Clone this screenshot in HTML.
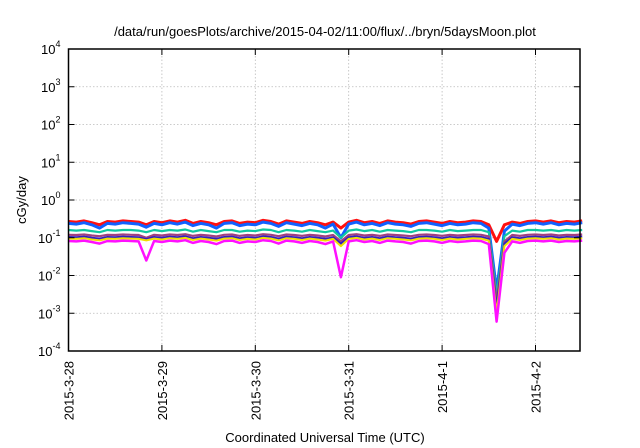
<!DOCTYPE html>
<html><head><meta charset="utf-8"><style>
body{margin:0;background:#fff;}
svg{display:block;font-family:"Liberation Sans",sans-serif;}
</style></head><body>
<svg id="chart" width="640" height="448" viewBox="0 0 640 448">
<rect width="640" height="448" fill="#fff"/>
<text x="325" y="36" font-size="13" text-anchor="middle" fill="#000">/data/run/goesPlots/archive/2015-04-02/11:00/flux/../bryn/5daysMoon.plot</text>
<text transform="translate(26,200) rotate(-90)" font-size="13" text-anchor="middle">cGy/day</text>
<text x="325" y="442" font-size="13" text-anchor="middle">Coordinated Universal Time (UTC)</text>
<g id="grid"></g><g id="series"></g><g id="axes"></g>
</svg>
<script>
const xTickLabels=["2015-3-28","2015-3-29","2015-3-30","2015-3-31","2015-4-1","2015-4-2"];
const yTickExp=[-4,-3,-2,-1,0,1,2,3,4];
const stepHours=2;
const red=[0.27,0.26,0.28,0.25,0.22,0.27,0.26,0.28,0.27,0.26,0.22,0.27,0.25,0.28,0.26,0.29,0.24,0.27,0.25,0.22,0.27,0.28,0.24,0.26,0.25,0.29,0.27,0.23,0.28,0.26,0.24,0.27,0.25,0.22,0.26,0.18,0.26,0.29,0.25,0.27,0.24,0.28,0.26,0.25,0.23,0.27,0.28,0.26,0.24,0.27,0.25,0.26,0.28,0.27,0.22,0.08,0.22,0.26,0.24,0.27,0.28,0.26,0.28,0.25,0.27,0.26,0.28];
const blue=[0.24,0.23,0.25,0.22,0.18,0.24,0.23,0.25,0.24,0.23,0.19,0.24,0.22,0.25,0.23,0.26,0.21,0.24,0.22,0.18,0.24,0.25,0.21,0.23,0.22,0.26,0.24,0.2,0.25,0.23,0.21,0.24,0.22,0.18,0.23,0.1,0.23,0.26,0.22,0.24,0.21,0.25,0.23,0.22,0.2,0.24,0.25,0.23,0.21,0.24,0.22,0.23,0.25,0.24,0.18,0.004,0.15,0.23,0.21,0.24,0.25,0.23,0.25,0.22,0.24,0.23,0.25];
const teal=[0.16,0.155,0.16,0.15,0.14,0.16,0.155,0.16,0.16,0.155,0.14,0.16,0.15,0.16,0.155,0.165,0.145,0.16,0.15,0.14,0.16,0.16,0.145,0.155,0.15,0.165,0.16,0.14,0.16,0.155,0.145,0.16,0.15,0.14,0.155,0.1,0.155,0.165,0.15,0.16,0.145,0.16,0.155,0.15,0.14,0.16,0.16,0.155,0.145,0.16,0.15,0.155,0.16,0.16,0.14,0.003,0.11,0.155,0.145,0.16,0.16,0.155,0.16,0.15,0.16,0.155,0.16];
const purple=[0.12,0.118,0.122,0.115,0.11,0.12,0.118,0.122,0.12,0.118,0.1,0.12,0.115,0.122,0.118,0.124,0.112,0.12,0.115,0.108,0.12,0.122,0.112,0.118,0.115,0.124,0.12,0.11,0.122,0.118,0.112,0.12,0.115,0.108,0.118,0.08,0.118,0.124,0.115,0.12,0.112,0.122,0.118,0.115,0.11,0.12,0.122,0.118,0.112,0.12,0.115,0.118,0.122,0.12,0.108,0.002,0.08,0.118,0.112,0.12,0.122,0.118,0.122,0.115,0.12,0.118,0.122];
const darkblue=[0.105,0.103,0.107,0.1,0.095,0.105,0.103,0.107,0.105,0.103,0.092,0.105,0.1,0.107,0.103,0.109,0.097,0.105,0.1,0.094,0.105,0.107,0.097,0.103,0.1,0.109,0.105,0.095,0.107,0.103,0.097,0.105,0.1,0.094,0.103,0.07,0.103,0.109,0.1,0.105,0.097,0.107,0.103,0.1,0.095,0.105,0.107,0.103,0.097,0.105,0.1,0.103,0.107,0.105,0.094,0.0015,0.07,0.103,0.097,0.105,0.107,0.103,0.107,0.1,0.105,0.103,0.107];
const yellow=[0.095,0.093,0.097,0.09,0.085,0.095,0.093,0.097,0.095,0.093,0.085,0.095,0.09,0.097,0.093,0.099,0.087,0.095,0.09,0.084,0.095,0.097,0.087,0.093,0.09,0.099,0.095,0.085,0.097,0.093,0.087,0.095,0.09,0.084,0.093,0.06,0.093,0.099,0.09,0.095,0.087,0.097,0.093,0.09,0.085,0.095,0.097,0.093,0.087,0.095,0.09,0.093,0.097,0.095,0.084,0.001,0.06,0.093,0.087,0.095,0.097,0.093,0.097,0.09,0.095,0.093,0.097];
const magenta=[0.082,0.08,0.084,0.077,0.07,0.082,0.08,0.084,0.082,0.08,0.025,0.082,0.077,0.084,0.08,0.086,0.073,0.082,0.077,0.068,0.082,0.084,0.073,0.08,0.077,0.086,0.082,0.07,0.084,0.08,0.073,0.082,0.077,0.068,0.08,0.009,0.08,0.086,0.077,0.082,0.073,0.084,0.08,0.077,0.07,0.082,0.084,0.08,0.073,0.082,0.077,0.08,0.084,0.082,0.068,0.0006,0.04,0.08,0.073,0.082,0.084,0.08,0.084,0.077,0.082,0.08,0.084];
const L=68.5,R=580,T=49,B=351,dayPx=93.4;
const xScale=h=>L+h/24*dayPx;
const yScale=v=>B-(Math.log10(v)+4)*(B-T)/8;
const NS="http://www.w3.org/2000/svg";
function mk(tag,attrs,parent){const e=document.createElementNS(NS,tag);for(const k in attrs)e.setAttribute(k,attrs[k]);parent.appendChild(e);return e;}
const grid=document.getElementById('grid'),axes=document.getElementById('axes'),ser=document.getElementById('series');
yTickExp.forEach(e=>{const y=yScale(Math.pow(10,e));
 if(e>-4&&e<4){const g=mk('line',{x1:L,x2:R,y1:y,y2:y,stroke:'#bbb','stroke-width':0.8,'stroke-dasharray':'1.5,2'},grid);
 
 }
 const t1=mk('line',{x1:L,x2:L+6,y1:y,y2:y,stroke:'#000','stroke-width':1},axes);
 
 
 mk('line',{x1:R-6,x2:R,y1:y,y2:y,stroke:'#000','stroke-width':1},axes);
 const tx=mk('text',{x:L-8,y:y+5,'font-size':13,'text-anchor':'end'},axes);
 
 
 tx.textContent='10';const sp=mk('tspan',{dy:-7,'font-size':9},tx);sp.textContent=e;});
xTickLabels.forEach((lab,i)=>{const x=xScale(i*24);
 if(i>0){const g=mk('line',{x1:x,x2:x,y1:T,y2:B,stroke:'#bbb','stroke-width':0.8,'stroke-dasharray':'1.5,2'},grid);
 
 }
 mk('line',{x1:x,x2:x,y1:B-6,y2:B,stroke:'#000','stroke-width':1},axes);
 mk('line',{x1:x,x2:x,y1:T,y2:T+6,stroke:'#000','stroke-width':1},axes);
 const tx=mk('text',{transform:`translate(${x+5},${B+10}) rotate(-90)`,'font-size':13,'text-anchor':'end'},axes);
 
 
 tx.textContent=lab;});
const fr=mk('rect',{x:L,y:T,width:R-L,height:B-T,fill:'none',stroke:'#000','stroke-width':1.5},axes);


const series=[['red',red,'#ff1010',3],['blue',blue,'#1060ff',3],['teal',teal,'#10c8a0',2.2],['purple',purple,'#a04080',2.2],['darkblue',darkblue,'#3020c0',2],['yellow',yellow,'#f0e000',2],['magenta',magenta,'#ff10ff',2.5]];
series.forEach(([n,arr,c,w])=>{const d=arr.map((v,i)=>(i?'L':'M')+xScale(i*stepHours).toFixed(1)+','+yScale(v).toFixed(1)).join('');
 const p=mk('path',{d:d,fill:'none',stroke:c,'stroke-width':w,'stroke-linejoin':'round'},ser);
 
 });
</script>
</body></html>
